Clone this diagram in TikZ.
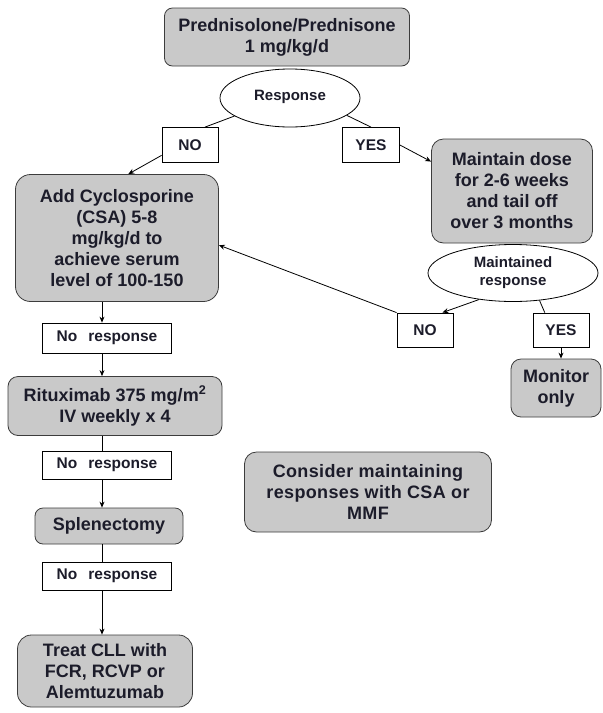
\documentclass[tikz,border=0pt]{standalone}
\usepackage{fontspec}
\setmainfont{Liberation Sans}
\usepackage{tikz}
\usetikzlibrary{arrows.meta,shapes.geometric}

\definecolor{boxgray}{RGB}{201,201,201}
\definecolor{boxline}{RGB}{60,60,60}
\definecolor{inkdark}{RGB}{28,28,42}

\begin{document}
\begin{tikzpicture}[x=1pt,y=-1pt,>={Stealth[length=6pt,width=5pt]},line width=0.8pt,
	treat/.style={draw=boxline, fill=boxgray, rounded corners=10pt, align=center, text=inkdark, inner sep=0pt, font=\bfseries\fontsize{18}{21}\selectfont},
	answer/.style={draw, fill=white, inner sep=0pt, text=inkdark, font=\bfseries\fontsize{15.5}{18}\selectfont},
	query/.style={ellipse, draw, fill=white, inner sep=0pt, align=center, text=inkdark, font=\bfseries\fontsize{15}{18}\selectfont}]

	\useasboundingbox (0,0) rectangle (603,713);
	\coordinate (spine) at (102,0);

	\node[treat, minimum width=245, minimum height=58, rounded corners=8pt] (pred) at (287,37) {Prednisolone/Prednisone\\1 mg/kg/d};
	\node[query, minimum width=140, minimum height=58] (resp) at (290,98) {\raisebox{5pt}{Response}};
	\node[answer, minimum width=56, minimum height=35] (no1) at (190,145) {NO};
	\node[answer, minimum width=57, minimum height=35] (yes1) at (371,145) {YES};

	\node[treat, minimum width=203, minimum height=127, rounded corners=15pt] (csa) at (117,238) {Add Cyclosporine\\(CSA) 5-8\\mg/kg/d to\\achieve serum\\level of 100-150};
	\node[treat, minimum width=161, minimum height=104, rounded corners=12pt] (maint) at (512,191) {Maintain dose\\for 2-6 weeks\\and tail off\\over 3 months};
	\node[query, minimum width=170, minimum height=57] (mresp) at (513,273) {Maintained\\response};
	\node[answer, minimum width=56, minimum height=34] (no2) at (425,330) {NO};
	\node[answer, minimum width=56, minimum height=34] (yes2) at (561,330) {YES};
	\node[treat, minimum width=90, minimum height=58] (mon) at (556,388) {Monitor\\only};

	\node[answer, minimum width=129, minimum height=30] (nr1) at (107,338) {No\hspace{11pt}response};
	\node[treat, minimum width=214, minimum height=59] (ritux) at (115,406) {Rituximab 375 mg/m\textsuperscript{2}\\IV weekly x 4};
	\node[answer, minimum width=129, minimum height=28] (nr2) at (107,465) {No\hspace{11pt}response};
	\node[treat, minimum width=148, minimum height=36, rounded corners=8pt] (splen) at (109,526) {Splenectomy};
	\node[answer, minimum width=129, minimum height=28] (nr3) at (107,576) {No\hspace{11pt}response};
	\node[treat, minimum width=175, minimum height=72, rounded corners=14pt] (cll) at (105,671) {Treat CLL with\\FCR, RCVP or\\Alemtuzumab};

	\node[treat, minimum width=247, minimum height=80, rounded corners=12pt, font=\bfseries\fontsize{18}{21}\selectfont\addfontfeature{LetterSpace=2}] (keep) at (368,492) {Consider maintaining\\responses with CSA or\\MMF};

	% first response
	\draw (resp.198) -- (no1.50);
	\draw[->] (no1.200) -- (csa.80);
	\draw (resp.343) -- (yes1.north);
	\draw[->] (yes1.east) -- (maint.160);

	% maintained response
	\draw[->] (mresp.218) -- (no2.45);
	\draw (mresp.314) -- (yes2.133);
	\draw[->] (yes2.south) -- (yes2.south |- mon.north);
	\draw[->] (no2.north west) -- (csa.356);

	% no response chain
	\draw[->] (csa.south -| spine) -- (nr1.north -| spine);
	\draw[->] (nr1.south -| spine) -- (ritux.north -| spine);
	\draw (ritux.south -| spine) -- (nr2.north -| spine);
	\draw[->] (nr2.south -| spine) -- (splen.north -| spine);
	\draw (splen.south -| spine) -- (nr3.north -| spine);
	\draw[->] (nr3.south -| spine) -- (cll.north -| spine);
\end{tikzpicture}
\end{document}
